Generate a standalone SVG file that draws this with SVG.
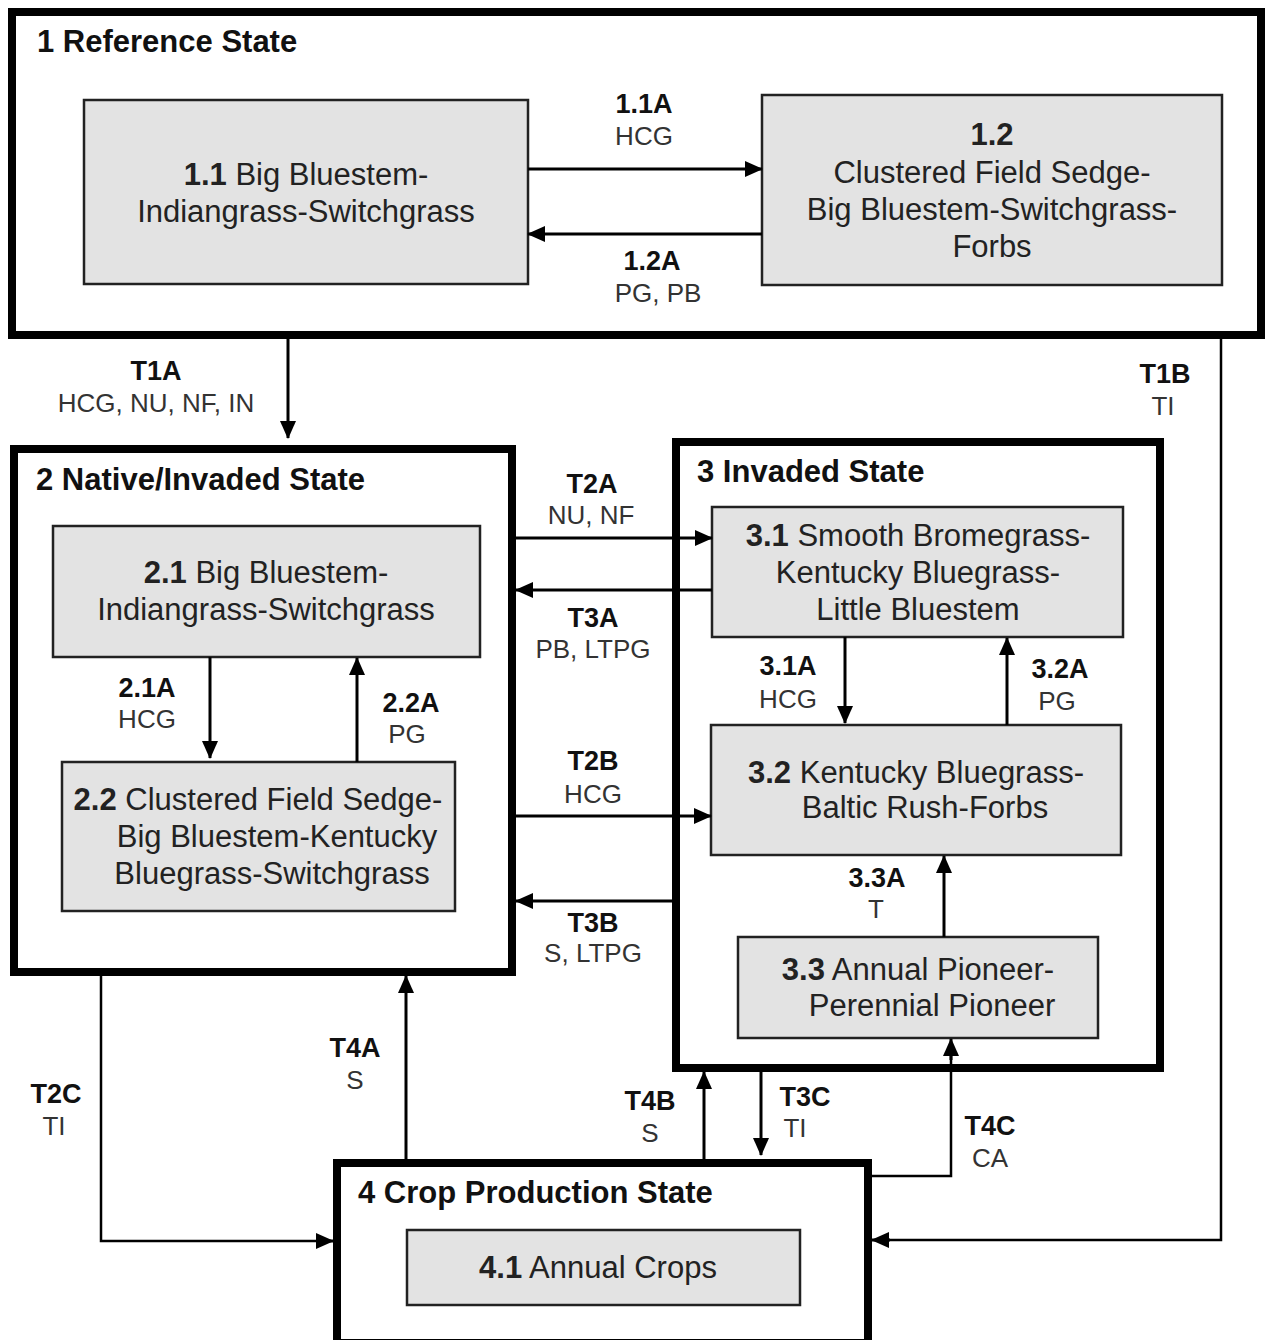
<svg xmlns="http://www.w3.org/2000/svg" width="1265" height="1340" viewBox="0 0 1265 1340">
<style>
text{font-family:"Liberation Sans",Arial,Helvetica,sans-serif;fill:#222}
.title{font-size:31px;font-weight:bold;fill:#111}
.node{font-size:31px;text-anchor:middle}
.b{font-weight:bold}
.lb{font-size:27px;font-weight:bold;text-anchor:middle;fill:#111}
.ls{font-size:26px;text-anchor:middle;fill:#333}
.state{fill:#fff;stroke:#000;stroke-width:8}
.box{fill:#e3e3e3;stroke:#222;stroke-width:2.5}
.c{fill:none;stroke:#000;stroke-width:3;marker-end:url(#ah)}
.t{fill:none;stroke:#000;stroke-width:2.5}
</style>
<defs>
<marker id="ah" markerUnits="userSpaceOnUse" markerWidth="18" markerHeight="16" refX="17" refY="8" orient="auto">
<path d="M0,0 L18,8 L0,16 z" fill="#000"/>
</marker>
</defs>
<rect width="1265" height="1340" fill="#fff"/>

<g id="state1">
<rect class="state" x="12" y="12" width="1249" height="323"/>
<text class="title" x="37" y="52">1 Reference State</text>
</g>
<g id="node1_1">
<rect class="box" x="84" y="100" width="444" height="184"/>
<text class="node" x="306" y="185"><tspan class="b">1.1</tspan> Big Bluestem-</text>
<text class="node" x="306" y="222">Indiangrass-Switchgrass</text>
</g>
<g id="node1_2">
<rect class="box" x="762" y="95" width="460" height="190"/>
<text class="node b" x="992" y="145">1.2</text>
<text class="node" x="992" y="183">Clustered Field Sedge-</text>
<text class="node" x="992" y="220">Big Bluestem-Switchgrass-</text>
<text class="node" x="992" y="257">Forbs</text>
</g>

<g id="state2">
<rect class="state" x="14" y="449" width="498" height="523"/>
<text class="title" x="36" y="490">2 Native/Invaded State</text>
</g>
<g id="node2_1">
<rect class="box" x="53" y="526" width="427" height="131"/>
<text class="node" x="266" y="583"><tspan class="b">2.1</tspan> Big Bluestem-</text>
<text class="node" x="266" y="620">Indiangrass-Switchgrass</text>
</g>
<g id="node2_2">
<rect class="box" x="62" y="762" width="393" height="149"/>
<text class="node" x="258" y="810"><tspan class="b">2.2</tspan>  Clustered Field Sedge-</text>
<text class="node" x="277" y="847">Big Bluestem-Kentucky</text>
<text class="node" x="272" y="884">Bluegrass-Switchgrass</text>
</g>

<g id="state3">
<rect class="state" x="676" y="442" width="484" height="626"/>
<text class="title" x="697" y="482">3 Invaded State</text>
</g>
<g id="node3_1">
<rect class="box" x="712" y="507" width="411" height="130"/>
<text class="node" x="918" y="546"><tspan class="b">3.1</tspan> Smooth Bromegrass-</text>
<text class="node" x="918" y="583">Kentucky Bluegrass-</text>
<text class="node" x="918" y="620">Little Bluestem</text>
</g>
<g id="node3_2">
<rect class="box" x="711" y="725" width="410" height="130"/>
<text class="node" x="916" y="783"><tspan class="b">3.2</tspan> Kentucky Bluegrass-</text>
<text class="node" x="925" y="818">Baltic Rush-Forbs</text>
</g>
<g id="node3_3">
<rect class="box" x="738" y="937" width="360" height="101"/>
<text class="node" x="918" y="980"><tspan class="b">3.3</tspan> Annual Pioneer-</text>
<text class="node" x="932" y="1016">Perennial Pioneer</text>
</g>

<g id="state4">
<rect class="state" x="337" y="1163" width="531" height="180"/>
<text class="title" x="358" y="1203">4 Crop Production State</text>
</g>
<g id="node4_1">
<rect class="box" x="407" y="1230" width="393" height="75"/>
<text class="node" x="598" y="1278"><tspan class="b">4.1</tspan> Annual Crops</text>
</g>

<g id="connectors">
<path class="c" d="M528,169 H762"/>
<path class="c" d="M762,234 H528"/>
<path class="c" d="M288,339 V438"/>
<path class="t" d="M1221,339 V1240 H886"/>
<path class="c" d="M890,1240 H872"/>
<path class="c" d="M210,657 V758"/>
<path class="c" d="M357,762 V658"/>
<path class="c" d="M516,538 H712"/>
<path class="c" d="M712,590 H516"/>
<path class="c" d="M516,816 H711"/>
<path class="c" d="M672,901 H516"/>
<path class="c" d="M845,637 V723"/>
<path class="c" d="M1007,725 V638"/>
<path class="c" d="M944,937 V856"/>
<path class="t" d="M101,976 V1241 H320"/>
<path class="c" d="M318,1241 H333"/>
<path class="c" d="M406,1159 V976"/>
<path class="c" d="M704,1159 V1072"/>
<path class="c" d="M761,1072 V1155"/>
<path class="t" d="M872,1176 H951 V1055"/>
<path class="c" d="M951,1060 V1039"/>
</g>

<g id="labels">
<text class="lb" x="644" y="113">1.1A</text>
<text class="ls" x="644" y="145">HCG</text>
<text class="lb" x="652" y="270">1.2A</text>
<text class="ls" x="658" y="302">PG, PB</text>
<text class="lb" x="156" y="380">T1A</text>
<text class="ls" x="156" y="412">HCG, NU, NF, IN</text>
<text class="lb" x="1165" y="383">T1B</text>
<text class="ls" x="1163" y="415">TI</text>
<text class="lb" x="147" y="697">2.1A</text>
<text class="ls" x="147" y="728">HCG</text>
<text class="lb" x="411" y="712">2.2A</text>
<text class="ls" x="407" y="743">PG</text>
<text class="lb" x="592" y="493">T2A</text>
<text class="ls" x="591" y="524">NU, NF</text>
<text class="lb" x="593" y="627">T3A</text>
<text class="ls" x="593" y="658">PB, LTPG</text>
<text class="lb" x="593" y="770">T2B</text>
<text class="ls" x="593" y="803">HCG</text>
<text class="lb" x="593" y="932">T3B</text>
<text class="ls" x="593" y="962">S, LTPG</text>
<text class="lb" x="788" y="675">3.1A</text>
<text class="ls" x="788" y="708">HCG</text>
<text class="lb" x="1060" y="678">3.2A</text>
<text class="ls" x="1057" y="710">PG</text>
<text class="lb" x="877" y="887">3.3A</text>
<text class="ls" x="876" y="918">T</text>
<text class="lb" x="56" y="1103">T2C</text>
<text class="ls" x="54" y="1135">TI</text>
<text class="lb" x="355" y="1057">T4A</text>
<text class="ls" x="355" y="1089">S</text>
<text class="lb" x="650" y="1110">T4B</text>
<text class="ls" x="650" y="1142">S</text>
<text class="lb" x="805" y="1106">T3C</text>
<text class="ls" x="795" y="1137">TI</text>
<text class="lb" x="990" y="1135">T4C</text>
<text class="ls" x="990" y="1167">CA</text>
</g>
</svg>
